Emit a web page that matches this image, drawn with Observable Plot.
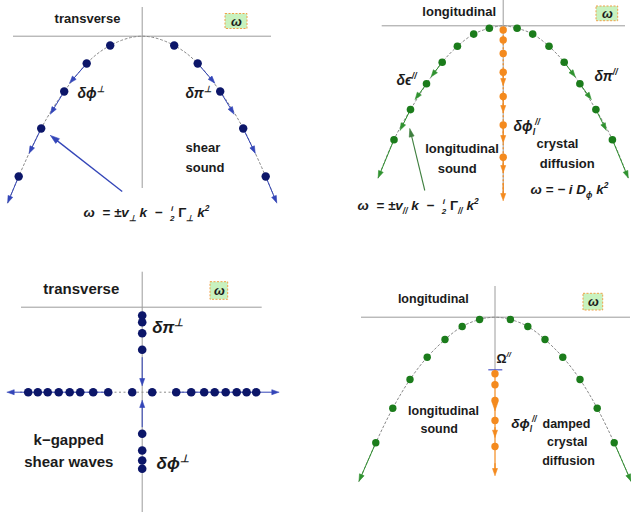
<!DOCTYPE html>
<html><head><meta charset="utf-8">
<script src="https://cdn.jsdelivr.net/npm/d3@7"></script>
<script src="https://cdn.jsdelivr.net/npm/@observablehq/plot@0.6"></script>
<style>
body{margin:0;background:#fff;}
#fig{position:relative;width:631px;height:517px;overflow:hidden;background:#fff;}
#fig svg{position:absolute;overflow:visible;}
</style></head><body><div id="fig"></div>
<script>
// ---------------- DATA (k = wave number, w = frequency) ----------------
// Panel A: transverse, shear sound
const A_dotK = [-12.35,-10.1,-7.8,-5.55,-3.2,3.2,5.55,7.8,10.1,12.35];
const A_dotW = [-14.03,-9.23,-5.53,-2.73,-0.93,-0.93,-2.73,-5.53,-9.23,-14.03];
const A_curveK = [-13.45,-12.35,-10.1,-7.8,-5.55,-3.2,0,3.2,5.55,7.8,10.1,12.35,13.45];
const A_curveW = [-16.66,-14.03,-9.23,-5.53,-2.73,-0.93,0,-0.93,-2.73,-5.53,-9.23,-14.03,-16.66];
const A_arrows = [
  {k1:-5.55,w1:-2.73,k2:-7.25,w2:-4.68},{k1:-7.8,w1:-5.53,k2:-9.17,w2:-7.77},
  {k1:-10.1,w1:-9.23,k2:-11.3,w2:-11.7},{k1:-12.35,w1:-14.03,k2:-13.45,w2:-16.66},
  {k1:5.55,w1:-2.73,k2:7.25,w2:-4.68},{k1:7.8,w1:-5.53,k2:9.17,w2:-7.77},
  {k1:10.1,w1:-9.23,k2:11.3,w2:-11.7},{k1:12.35,w1:-14.03,k2:13.45,w2:-16.66}];
const A_pointer = [{k1:-2.0,w1:-15.53,k2:-9.17,w2:-9.93}];

// Panel B: longitudinal, sound + crystal diffusion
const B_dotK = [-10.92,-9.27,-7.67,-6.1,-4.58,-2.95,-1.39,1.39,2.95,4.58,6.1,7.67,9.27,10.92];
const B_dotW = [-11.39,-8.38,-5.8,-3.64,-2.05,-0.83,-0.25,-0.25,-0.83,-2.05,-3.64,-5.8,-8.38,-11.39];
const B_curveK = [-12.5,-10.92,-9.27,-7.67,-6.1,-4.58,-2.95,-1.39,0,1.39,2.95,4.58,6.1,7.67,9.27,10.92,12.5];
const B_curveW = [-15.2,-11.39,-8.38,-5.8,-3.64,-2.05,-0.83,-0.25,0,-0.25,-0.83,-2.05,-3.64,-5.8,-8.38,-11.39,-15.2];
const B_arrows = [
  {k1:-6.1,w1:-3.64,k2:-7.2,w2:-5.1},{k1:-7.67,w1:-5.8,k2:-8.8,w2:-7.35},
  {k1:-9.27,w1:-8.38,k2:-10.3,w2:-10.43},{k1:-10.92,w1:-11.39,k2:-12.5,w2:-15.2},
  {k1:6.1,w1:-3.64,k2:7.2,w2:-5.1},{k1:7.67,w1:-5.8,k2:8.8,w2:-7.35},
  {k1:9.27,w1:-8.38,k2:10.3,w2:-10.43},{k1:10.92,w1:-11.39,k2:12.5,w2:-15.2}];
const B_diffW = [-0.42,-1.42,-2.77,-4.64,-7.07,-9.92,-13.14];
const B_diffArrows = [
  {k1:0,w1:-4.64,k2:0,w2:-5.97},{k1:0,w1:-7.07,k2:0,w2:-8.67},{k1:0,w1:-9.92,k2:0,w2:-11.67},
  {k1:0,w1:-13.14,k2:0,w2:-14.67},{k1:0,w1:-15.7,k2:0,w2:-17.47}];
const B_pointer = [{k1:-7.84,w1:-16.47,k2:-9.34,w2:-10.3}];

// Panel C: transverse, k-gapped shear waves
const C_gapW = -8.5;
const C_rowK = [-11.4,-10.44,-9.45,-8.35,-7.25,-6.2,-4.9,-3.4,-1.0,1.0,3.4,4.9,6.2,7.25,8.35,9.45,10.44,11.4];
const C_colW = [-0.83,-1.5,-2.6,-4.26,-12.66,-14.33,-15.33,-16.16];
const C_arrows = [
  {k1:0,w1:-5.0,k2:0,w2:-7.83},{k1:0,w1:-12.0,k2:0,w2:-9.33},
  {k1:-11.4,w1:-8.5,k2:-13.5,w2:-8.5},{k1:11.4,w1:-8.5,k2:13.66,w2:-8.5}];

// Panel D: longitudinal, sound + damped crystal diffusion
const D_dotK = [-11.92,-10.22,-8.5,-6.78,-5.0,-3.28,-1.54,1.54,3.28,5.0,6.78,8.5,10.22,11.92];
const D_dotW = [-12.56,-9.1,-6.23,-4.0,-2.23,-0.93,-0.23,-0.23,-0.93,-2.23,-4.0,-6.23,-9.1,-12.56];
const D_curveK = [-13.6,-11.92,-10.22,-8.5,-6.78,-5.0,-3.28,-1.54,0,1.54,3.28,5.0,6.78,8.5,10.22,11.92,13.6];
const D_curveW = [-16.4,-12.56,-9.1,-6.23,-4.0,-2.23,-0.93,-0.23,0,-0.23,-0.93,-2.23,-4.0,-6.23,-9.1,-12.56,-16.4];
const D_arrows = [{k1:-11.92,w1:-12.56,k2:-13.6,w2:-16.4},{k1:11.92,w1:-12.56,k2:13.6,w2:-16.4}];
const D_gapW = -5.26;           // Omega^||
const D_diffW = [-5.66,-6.76,-8.33,-10.33,-12.93];
const D_diffArrows = [{k1:0,w1:-8.4,k2:0,w2:-9.33},{k1:0,w1:-11.0,k2:0,w2:-12.0},{k1:0,w1:-14.6,k2:0,w2:-15.83}];

// ---------------- STYLE ----------------
const U = 10; // px per unit, same on both axes
const FONT = "Liberation Sans, Arial, Helvetica, sans-serif";
const INK = "#1b1b1b", GRID = "#9c9c9c", DOTLINE = "#8a8a8a";
const NAVY = "#0c1669", BLUE = "#3345b8";
const GREEN = "#1b7c1b", GREEN2 = "#2f922f", GREENPTR = "#3f7f3f";
const ORANGE = "#f48a1e";
const BOXFILL = "#c8f2bf", BOXSTROKE = "#f0a048";

const pts = (K, Wv) => K.map((k, i) => ({k, w: Array.isArray(Wv) ? Wv[i] : Wv}));

function arrowMarks(list, color, sw = 1, hl = 7, hw = 5) {
  const heads = [];
  const shafts = list.map((a, i) => {
    const dx = a.k2 - a.k1, dy = a.w2 - a.w1, d = Math.hypot(dx, dy), ux = dx / d, uy = dy / d;
    const L = hl / U, h = hw / U / 2, bx = a.k2 - ux * L, by = a.w2 - uy * L;
    heads.push({id: i, k: a.k2, w: a.w2}, {id: i, k: bx - uy * h, w: by + ux * h},
               {id: i, k: bx + uy * h, w: by - ux * h}, {id: i, k: a.k2, w: a.w2});
    return {k1: a.k1, w1: a.w1, k2: bx + ux * L * 0.3, w2: by + uy * L * 0.3};
  });
  return [
    Plot.link(shafts, {x1: "k1", y1: "w1", x2: "k2", y2: "w2", stroke: color, strokeWidth: sw}),
    Plot.line(heads, {x: "k", y: "w", z: "id", fill: color, stroke: color, strokeWidth: 0.6})
  ];
}
function labels(list, size, italic) {
  return list.map(l => Plot.text([l], {x: "k", y: "w", text: "t", textAnchor: l.a || "start",
    fontSize: size, fontWeight: "bold", fontStyle: italic ? "italic" : "normal", fontFamily: FONT, fill: INK}));
}
function omegaBox(b, size = 13) {
  return [
    Plot.rect([b], {x1: "k1", x2: "k2", y1: "w1", y2: "w2", fill: BOXFILL, stroke: BOXSTROKE, strokeWidth: 1, strokeDasharray: "2,1.5"}),
    Plot.text([b], {x: d => (d.k1 + d.k2) / 2, y: d => (d.w1 + d.w2) / 2, text: () => "ω", fontSize: size,
      fontWeight: "bold", fontStyle: "italic", fontFamily: FONT, fill: INK})
  ];
}
function panel(W, H, x0, y0, marks) {
  return Plot.plot({
    width: W, height: H, margin: 0,
    x: {domain: [-x0 / U, (W - x0) / U], range: [0, W], axis: null},
    y: {domain: [(y0 - H) / U, y0 / U], range: [H, 0], axis: null},
    style: {background: "transparent", overflow: "visible"},
    marks
  });
}
const dotted = (K, Wv) => Plot.line(pts(K, Wv), {x: "k", y: "w", curve: "natural", stroke: DOTLINE, strokeDasharray: "2,2.5", strokeWidth: 1});

// ---------------- PANELS ----------------
const svgA = panel(316, 258, 141.7, 35.7, [
  Plot.ruleY([0], {x1: -12.87, x2: 12.93, stroke: GRID}),
  Plot.ruleX([0], {y1: 2.87, y2: -15.23, stroke: GRID}),
  dotted(A_curveK, A_curveW),
  ...arrowMarks(A_arrows, BLUE),
  ...arrowMarks(A_pointer, BLUE, 1.3, 9, 6),
  Plot.dot(pts(A_dotK, A_dotW), {x: "k", y: "w", r: 4.2, fill: NAVY}),
  ...omegaBox({k1: 8.33, k2: 10.53, w1: 2.22, w2: 0.72}),
  ...labels([{t: "transverse", k: -5.47, w: 1.77, a: "middle"}, {t: "shear", k: 4.33, w: -11.13}, {t: "sound", k: 4.33, w: -13.13}], 13, false),
  ...labels([{t: "δϕ^{⊥}", k: -6.47, w: -5.73}, {t: "δπ^{⊥}", k: 4.33, w: -5.73}], 14, true),
  ...labels([{t: "ω  = ±v_{⊥} k  −  \\frac{i}{2} \\up{Γ}_{⊥} k^{2}", k: -5.87, w: -17.63}], 13.5, true)
]);

const svgB = panel(315, 258, 186.7, 25.3, [
  Plot.ruleY([0], {x1: -12.1, x2: 12.23, stroke: GRID}),
  Plot.ruleX([0], {y1: 2.53, y2: -17.0, stroke: GRID}),
  dotted(B_curveK, B_curveW),
  Plot.ruleX([0], {y1: -0.2, y2: -17.3, stroke: ORANGE, strokeDasharray: "2,2", strokeWidth: 1.2}),
  ...arrowMarks(B_arrows, GREEN2),
  ...arrowMarks(B_diffArrows, ORANGE, 1.2),
  ...arrowMarks(B_pointer, GREENPTR, 1.1, 8, 5),
  Plot.dot(pts(B_dotK, B_dotW), {x: "k", y: "w", r: 3.8, fill: GREEN}),
  Plot.dot(pts(B_diffW.map(() => 0), B_diffW), {x: "k", y: "w", r: 3.7, fill: ORANGE}),
  ...omegaBox({k1: 9.33, k2: 11.5, w1: 1.93, w2: 0.46}),
  ...labels([{t: "longitudinal", k: -4.4, w: 1.43, a: "middle"}, {t: "longitudinal", k: -4.12, w: -12.27, a: "middle"},
    {t: "sound", k: -4.6, w: -14.27, a: "middle"}, {t: "crystal", k: 5.43, w: -11.77, a: "middle"},
    {t: "diffusion", k: 6.4, w: -13.77, a: "middle"}], 13, false),
  ...labels([{t: "δϵ^{//}", k: -10.67, w: -5.47}, {t: "δπ^{//}", k: 9.13, w: -5.07}, {t: "δϕ_{l}^{//}", k: 1.03, w: -10.07}], 14, true),
  ...labels([{t: "ω = − i D_{ϕ} k^{2}", k: 2.73, w: -16.37}, {t: "ω  = ±v_{//} k  −  \\frac{i}{2} \\up{Γ}_{//} k^{2}", k: -14.57, w: -17.97}], 13.5, true)
]);

const rowPairs = [];
C_rowK.forEach((k, i) => { if (i < C_rowK.length - 1 && (i < 7 || i >= 10)) rowPairs.push({k1: k, k2: C_rowK[i + 1], w: C_gapW}); });
const svgC = panel(316, 259, 141.7, 48.7, [
  Plot.ruleY([0], {x1: -12.07, x2: 12.0, stroke: GRID}),
  Plot.ruleX([0], {y1: 3.5, y2: -20.53, stroke: GRID}),
  Plot.ruleY([C_gapW], {x1: -12.17, x2: 12.0, stroke: DOTLINE, strokeDasharray: "2,2.5"}),
  Plot.link(rowPairs, {x1: "k1", x2: "k2", y1: "w", y2: "w", stroke: BLUE, strokeWidth: 1}),
  ...arrowMarks(C_arrows, BLUE),
  Plot.dot(pts(C_rowK, C_gapW), {x: "k", y: "w", r: 4.3, fill: NAVY}),
  Plot.dot(pts(C_colW.map(() => 0), C_colW), {x: "k", y: "w", r: 4.3, fill: NAVY}),
  ...omegaBox({k1: 6.83, k2: 8.6, w1: 2.5, w2: 0.74}),
  ...labels([{t: "transverse", k: -6.09, w: 1.84, a: "middle"}, {t: "k−gapped", k: -7.34, w: -13.33, a: "middle"},
    {t: "shear waves", k: -7.34, w: -15.5, a: "middle"}], 15, false),
  ...labels([{t: "δπ^{⊥}", k: 1.0, w: -2.0}, {t: "δϕ^{⊥}", k: 1.43, w: -15.66}], 17, true)
]);

const svgD = panel(315, 259, 178.5, 58.7, [
  Plot.ruleY([0], {x1: -13.35, x2: 13.55, stroke: GRID}),
  Plot.ruleX([0], {y1: 3.07, y2: D_gapW, stroke: GRID}),
  dotted(D_curveK, D_curveW),
  ...arrowMarks(D_arrows, GREEN2),
  Plot.ruleX([0], {y1: D_gapW, y2: -15.2, stroke: ORANGE, strokeWidth: 1.2}),
  ...arrowMarks(D_diffArrows, ORANGE, 1.2),
  Plot.ruleY([D_gapW], {x1: -0.62, x2: 0.78, stroke: "#4b55c8", strokeWidth: 1.2}),
  Plot.dot(pts(D_dotK, D_dotW), {x: "k", y: "w", r: 3.7, fill: GREEN}),
  Plot.dot(pts(D_diffW.map(() => 0), D_diffW), {x: "k", y: "w", r: 3.7, fill: ORANGE}),
  ...omegaBox({k1: 8.85, k2: 10.82, w1: 2.34, w2: 0.67}),
  ...labels([{t: "longitudinal", k: -6.17, w: 1.84, a: "middle"}, {t: "longitudinal", k: -5.15, w: -9.33, a: "middle"},
    {t: "sound", k: -5.58, w: -11.16, a: "middle"}, {t: "damped", k: 7.15, w: -10.66, a: "middle"},
    {t: "crystal", k: 7.22, w: -12.5, a: "middle"}, {t: "diffusion", k: 7.35, w: -14.33, a: "middle"},
    {t: "Ω^{//}", k: 0.15, w: -4.13}], 12.5, false),
  ...labels([{t: "δϕ_{l}^{//}", k: 1.62, w: -10.63}], 13.5, true)
]);

// ---------------- rich text (sub/superscripts, stacked fraction, upright) ----------------
const NS = "http://www.w3.org/2000/svg";
function richify(svg) {
  svg.querySelectorAll("text").forEach(t => {
    const s = t.textContent;
    if (!/[_^]\{|\\frac|\\up/.test(s)) return;
    const fs = parseFloat(getComputedStyle(t).fontSize) || 12;
    while (t.firstChild) t.removeChild(t.firstChild);
    let shift = 0;
    const add = (txt, size, target, style) => {
      const ts = document.createElementNS(NS, "tspan");
      ts.textContent = txt; ts.setAttribute("font-size", size);
      if (target !== shift) ts.setAttribute("dy", (target - shift).toFixed(2));
      if (style) ts.setAttribute("font-style", style);
      shift = target; t.appendChild(ts); return ts;
    };
    const re = /([_^])\{([^}]*)\}|\\frac\{([^}]*)\}\{([^}]*)\}|\\up\{([^}]*)\}|([^_^\\]+)/g;
    let m;
    while ((m = re.exec(s))) {
      if (m[6] !== undefined) add(m[6], fs, 0);
      else if (m[5] !== undefined) add(m[5], fs, 0, "normal");
      else if (m[1] === "_") add(m[2], fs * 0.62, fs * 0.3);
      else if (m[1] === "^") add(m[2], fs * 0.62, -fs * 0.42, m[2] === "//" ? "italic" : null);
      else {
        const a = add(m[3], fs * 0.6, -fs * 0.42), b = add(m[4], fs * 0.6, fs * 0.33);
        const wa = a.getComputedTextLength(), wb = b.getComputedTextLength();
        a.setAttribute("dx", ((wb - wa) / 2).toFixed(2));
        b.setAttribute("dx", (-(wb + wa) / 2).toFixed(2));
      }
    }
  });
}
const fig = document.getElementById("fig");
[[svgA, 0, 0], [svgB, 316, 0], [svgC, 0, 258], [svgD, 316, 258]].forEach(([svg, l, t]) => {
  svg.style.left = l + "px"; svg.style.top = t + "px";
  fig.appendChild(svg); richify(svg);
});
</script></body></html>
